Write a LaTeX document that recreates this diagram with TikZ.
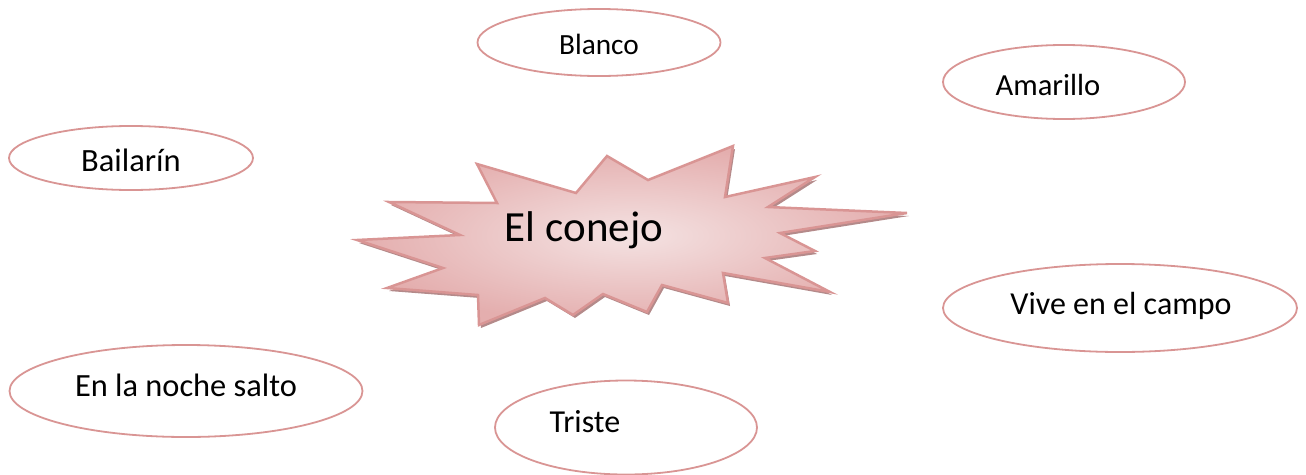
\documentclass[tikz,border=0pt]{standalone}
\usepackage{fontspec}
\setmainfont{Carlito}
\usepackage{tikz}
\usetikzlibrary{shapes.geometric}
\definecolor{rose}{RGB}{217,149,148}
\definecolor{starlight}{RGB}{244,226,226}
\definecolor{stardark}{RGB}{228,174,174}
\definecolor{starshadow}{RGB}{180,138,138}

\begin{document}
\begin{tikzpicture}[x=1pt,y=-1pt,
		bubble/.style={ellipse,draw=rose,line width=1.8pt,inner sep=0pt},
		word/.style={anchor=base,inner sep=0pt,font=\fontsize{32}{38}\selectfont}]
	\useasboundingbox (0,0) rectangle (1306,474);
	\def\starpath{(357,240) -- (460,235) -- (389,202) -- (497,203) -- (477,164) -- (576,193) -- (607,156) -- (648,180) -- (733,146) -- (725,197) -- (815,177) -- (768,207) -- (907,213) -- (780,233) -- (815,251) -- (765,258) -- (830,292) -- (723,273) -- (728,303) -- (662,285) -- (647,312) -- (603,294) -- (573,315) -- (545,298) -- (479,325) -- (478,295) -- (387,288) -- (443,268) -- cycle}
		\fill[starshadow,shift={(2,3)}] \starpath;
		\shade[inner color=starlight,outer color=stardark,draw=rose,line width=2.5pt,line join=miter] \starpath;
		\node[word,font=\fontsize{43}{51}\selectfont] (conejo) at (584,241.5) {El conejo};
		\begin{scope}[every node/.style={bubble}]
			\node[minimum width=243,minimum height=67] (blanco) at (599,42.5) {};
			\node[minimum width=242,minimum height=74] (amarillo) at (1064,82) {};
			\node[minimum width=244,minimum height=64] (bailarin) at (131,158) {};
			\node[minimum width=354,minimum height=88] (campo) at (1120,308) {};
			\node[minimum width=353,minimum height=92] (noche) at (186,391) {};
			\node[minimum width=262,minimum height=94] (triste) at (626,427.5) {};
		\end{scope}
		\begin{scope}[every node/.style={word}]
			\node[font=\fontsize{29.3}{35}\selectfont] (t-blanco) at (599,54) {Blanco};
			\node[font=\fontsize{30.6}{37}\selectfont] (t-amarillo) at (1048,95) {Amarillo};
			\node[font=\fontsize{32.5}{39}\selectfont] (t-bailarin) at (131,171) {Bailarín};
			\node (t-campo) at (1121,314) {Vive en el campo};
			\node[font=\fontsize{32.4}{39}\selectfont] (t-noche) at (186,396.5) {En la noche salto};
			\node (t-triste) at (585,432.5) {Triste};
		\end{scope}
	\end{tikzpicture}
\end{document}
